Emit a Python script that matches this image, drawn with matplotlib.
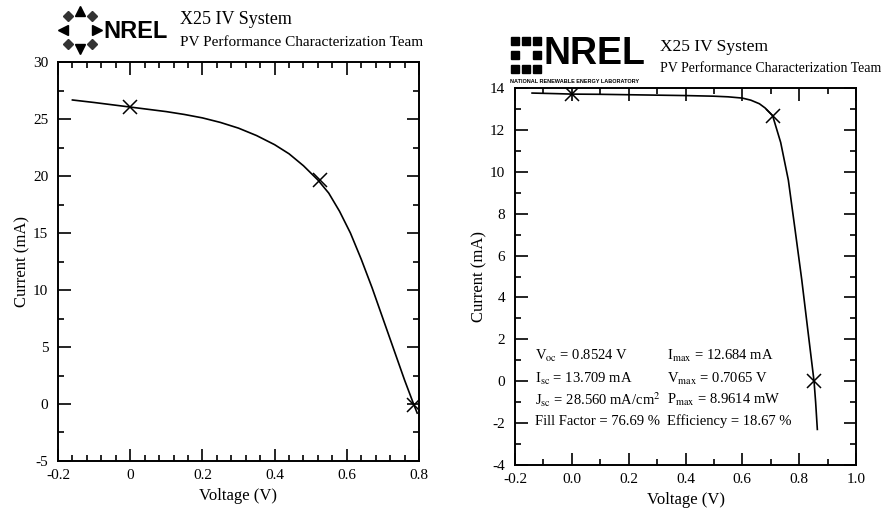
import numpy as np
import matplotlib
matplotlib.use('Agg')
import matplotlib.pyplot as plt
from matplotlib.ticker import MultipleLocator, FormatStrFormatter

plt.rcParams['font.family'] = ['Liberation Serif', 'DejaVu Serif']
plt.rcParams['mathtext.fontset'] = 'stix'
plt.rcParams['axes.unicode_minus'] = False

# left panel: I-V curve
left_v = [-0.16, -0.1, -0.05, 0.0, 0.05, 0.1, 0.15, 0.2, 0.25, 0.3, 0.35, 0.4, 0.44, 0.48,
          0.52, 0.55, 0.58, 0.61, 0.64, 0.67, 0.70, 0.73, 0.76, 0.785, 0.795]
left_i = [26.67, 26.45, 26.25, 26.05, 25.85, 25.65, 25.4, 25.1, 24.7, 24.2, 23.55, 22.75, 21.95, 20.9,
          19.65, 18.5, 16.9, 15.0, 12.7, 10.2, 7.5, 4.8, 2.1, 0.0, -0.8]
left_mark_v = [0.0, 0.525, 0.787]
left_mark_i = [26.05, 19.65, -0.1]

# right panel
right_v = [-0.14, -0.05, 0.0, 0.1, 0.2, 0.3, 0.4, 0.5, 0.55, 0.6, 0.63, 0.66, 0.68, 0.7065,
           0.735, 0.762, 0.785, 0.809, 0.83, 0.8524, 0.858, 0.864]
right_i = [13.76, 13.73, 13.71, 13.70, 13.68, 13.66, 13.64, 13.61, 13.58, 13.52, 13.42, 13.25, 13.05, 12.684,
           11.4, 9.6, 7.3, 4.86, 2.5, 0.0, -1.0, -2.3]
right_mark_v = [0.0, 0.7065, 0.8524]
right_mark_i = [13.709, 12.684, 0.0]

info_left = [r'V$_{\rm oc}$ = 0.8524 V', r'I$_{\rm sc}$ = 13.709 mA',
             r'J$_{\rm sc}$ = 28.560 mA/cm$^{2}$', 'Fill Factor = 76.69 %']
info_right = [r'I$_{\rm max}$ = 12.684 mA', r'V$_{\rm max}$ = 0.7065 V',
              r'P$_{\rm max}$ = 8.9614 mW', 'Efficiency = 18.67 %']
info_y = [1.2, 0.1, -0.9, -1.9]

fig = plt.figure(figsize=(8.81, 5.16), dpi=100)
ax1 = fig.add_axes([0.0658, 0.1066, 0.4098, 0.7732])
ax2 = fig.add_axes([0.5846, 0.0988, 0.387, 0.7306])


def style(ax):
    for s in ax.spines.values():
        s.set_linewidth(1.4)
    ax.tick_params(which='both', direction='in', top=True, right=True,
                   width=1.2, labelsize=11)
    ax.tick_params(which='major', length=9)
    ax.tick_params(which='minor', length=4.5)
    ax.tick_params(axis='x', which='major', pad=6)
    ax.tick_params(axis='y', which='major', pad=7)
    ax.set_xlabel('Voltage (V)', fontsize=12, labelpad=4)
    ax.set_ylabel('Current (mA)', fontsize=12, labelpad=2)


ax1.plot(left_v, left_i, color='black', lw=1.2)
ax1.plot(left_mark_v, left_mark_i, 'x', color='black', ms=10, mew=1.1)
ax1.set_xlim(-0.2, 0.8)
ax1.set_ylim(-5, 30)
ax1.xaxis.set_minor_locator(MultipleLocator(0.04))
ax1.yaxis.set_major_locator(MultipleLocator(5))
ax1.yaxis.set_minor_locator(MultipleLocator(2.5))
ax1.set_xticks([-0.2, 0, 0.2, 0.4, 0.6, 0.8], ['-0.2', '0', '0.2', '0.4', '0.6', '0.8'])
style(ax1)

ax2.plot(right_v, right_i, color='black', lw=1.2)
ax2.plot(right_mark_v, right_mark_i, 'x', color='black', ms=10, mew=1.1)
ax2.set_xlim(-0.2, 1.0)
ax2.set_ylim(-4, 14)
ax2.xaxis.set_major_locator(MultipleLocator(0.2))
ax2.xaxis.set_minor_locator(MultipleLocator(0.1))
ax2.xaxis.set_major_formatter(FormatStrFormatter('%.1f'))
ax2.yaxis.set_major_locator(MultipleLocator(2))
ax2.yaxis.set_minor_locator(MultipleLocator(1))
style(ax2)
for txt, y in zip(info_left, info_y):
    ax2.text(-0.13, y, txt, fontsize=10.5, va='center')
for txt, y in zip(info_right, info_y):
    ax2.text(0.335, y, txt, fontsize=10.5, va='center')

# headers
fig.text(180 / 881, 1 - 20 / 516, 'X25 IV System', fontsize=13, va='center')
fig.text(180 / 881, 1 - 43 / 516, 'PV Performance Characterization Team', fontsize=11, va='center')
fig.text(660 / 881, 1 - 47 / 516, 'X25 IV System', fontsize=12.5, va='center')
fig.text(660 / 881, 1 - 69 / 516, 'PV Performance Characterization Team', fontsize=10, va='center')

# left logo: ring of arrows + NREL
lg1 = fig.add_axes([58 / 881, 1 - 55 / 516, 44 / 881, 50 / 516])
lg1.set_xlim(-1.3, 1.3)
lg1.set_ylim(-1.3, 1.3)
lg1.axis('off')
for ang, mk in [(90, '^'), (0, '>'), (270, 'v'), (180, '<')]:
    lg1.plot(np.cos(np.radians(ang)), np.sin(np.radians(ang)), mk, color='black', ms=7)
for ang in [45, 135, 225, 315]:
    lg1.plot(np.cos(np.radians(ang)), np.sin(np.radians(ang)), 'D', color='#333333', ms=5)
fig.text(103 / 881, 1 - 31 / 516, 'NREL', fontsize=17, fontweight='bold',
         family=['Liberation Sans', 'DejaVu Sans'], va='center')

# right logo: ring of squares + NREL
lg2 = fig.add_axes([510 / 881, 1 - 75 / 516, 32 / 881, 40 / 516])
lg2.set_xlim(-1.4, 1.4)
lg2.set_ylim(-1.4, 1.4)
lg2.axis('off')
for gx in [-1, 0, 1]:
    for gy in [-1, 0, 1]:
        if gx == 0 and gy == 0:
            continue
        lg2.plot(gx, gy, 's', color='black', ms=6)
fig.text(544 / 881, 1 - 54 / 516, 'NREL', fontsize=27, fontweight='bold',
         family=['Liberation Sans', 'DejaVu Sans'], va='center')
fig.text(510 / 881, 1 - 81 / 516, 'NATIONAL RENEWABLE ENERGY LABORATORY', fontsize=4,
         fontweight='bold', family=['Liberation Sans', 'DejaVu Sans'], va='center')

fig.savefig('out.png', dpi=100)
